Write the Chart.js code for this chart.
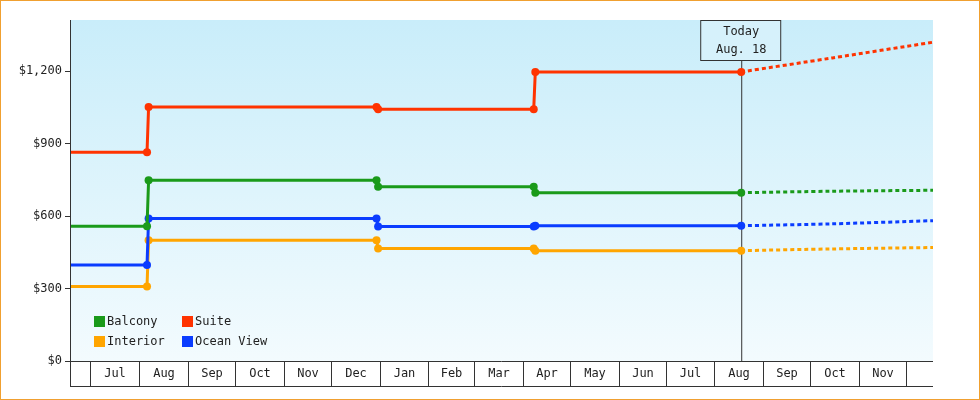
<!DOCTYPE html>
<html lang="en">
<head>
<meta charset="UTF-8">
<title>Cabin prices</title>
<script src="https://cdn.jsdelivr.net/npm/chart.js"></script>
<style>
    body { margin: 0; background: #fff; }
    .wrap { width: 978px; height: 398px; border: 1px solid #f0a030; }
</style>
</head>
<body>
<div class="wrap"><canvas id="chart" width="978" height="398"></canvas></div>
<script>
// price history dates (step changes) and forecast dates
const histDates = ["2023-06-18", "2023-08-06", "2023-08-07", "2023-12-30", "2023-12-31", "2024-04-08", "2024-04-09", "2024-08-18"];
const foreDates = ["2024-08-18", "2024-10-15", "2024-12-18"];
const balcony   = [558, 558, 748, 748, 722, 722, 697, 697];
const suite     = [864, 864, 1052, 1052, 1042, 1042, 1197, 1197];
const interior  = [308, 308, 500, 500, 466, 466, 457, 457];
const oceanView = [398, 398, 590, 590, 557, 557, 560, 560];
const balconyF  = [697, 703, 707];
const suiteF    = [1197, 1255, 1320];
const interiorF = [457, 464, 470];
const oceanF    = [560, 568, 581];
const yTicks = [0, 300, 600, 900, 1200];
const monthStarts = ["2023-07-01","2023-08-01","2023-09-01","2023-10-01","2023-11-01","2023-12-01","2024-01-01","2024-02-01","2024-03-01","2024-04-01","2024-05-01","2024-06-01","2024-07-01","2024-08-01","2024-09-01","2024-10-01","2024-11-01","2024-12-01"];
const monthNames = ["Jul","Aug","Sep","Oct","Nov","Dec","Jan","Feb","Mar","Apr","May","Jun","Jul","Aug","Sep","Oct","Nov"];
const startDate = "2023-06-18", endDate = "2024-12-18", today = "2024-08-18";

const day = s => (Date.parse(s) - Date.parse(startDate)) / 86400000;
const pts = (dates, vals) => dates.map((d, i) => ({ x: day(d), y: vals[i] }));
const FONT = "'DejaVu Sans Mono', monospace";
const colors = { Balcony: "#1a9a1a", Suite: "#ff3300", Interior: "#ffa500", "Ocean View": "#0a3cff" };

function hist(label, vals) {
    return { label, data: pts(histDates, vals), borderColor: colors[label], backgroundColor: colors[label],
        borderWidth: 3, pointRadius: c => c.dataIndex === 0 ? 0 : 4, pointBorderWidth: 0, tension: 0 };
}
function fore(label, vals) {
    return { label: label + " forecast", data: pts(foreDates, vals), borderColor: colors[label],
        borderWidth: 3, borderDash: [4, 3], pointRadius: 0, tension: 0.3 };
}

const decor = {
    id: "decor",
    beforeDatasetsDraw(chart) {
        const { ctx, chartArea: a } = chart;
        const g = ctx.createLinearGradient(0, a.top, 0, a.bottom);
        g.addColorStop(0, "#c9edfa");
        g.addColorStop(1, "#f3fbfe");
        ctx.save();
        ctx.fillStyle = g;
        ctx.fillRect(a.left, a.top, a.right - a.left, a.bottom - a.top);
        const tx = chart.scales.x.getPixelForValue(day(today));
        ctx.strokeStyle = "#333"; ctx.lineWidth = 1;
        ctx.beginPath(); ctx.moveTo(tx + 0.5, a.top + 40); ctx.lineTo(tx + 0.5, a.bottom); ctx.stroke();
        ctx.restore();
    },
    afterDraw(chart) {
        const { ctx, chartArea: a } = chart;
        const x = chart.scales.x;
        ctx.save();
        ctx.strokeStyle = "#333"; ctx.lineWidth = 1;
        // axes
        ctx.beginPath();
        ctx.moveTo(a.left + 0.5, a.top); ctx.lineTo(a.left + 0.5, a.bottom + 25);
        ctx.moveTo(a.left, a.bottom + 0.5); ctx.lineTo(a.right, a.bottom + 0.5);
        ctx.moveTo(a.left, a.bottom + 25.5); ctx.lineTo(a.right, a.bottom + 25.5);
        const bx = monthStarts.map(m => Math.round(x.getPixelForValue(day(m))) + 0.5);
        bx.forEach(p => { ctx.moveTo(p, a.bottom); ctx.lineTo(p, a.bottom + 25); });
        ctx.stroke();
        ctx.fillStyle = "#222"; ctx.font = "12px " + FONT;
        ctx.textAlign = "center"; ctx.textBaseline = "middle";
        monthNames.forEach((m, i) => ctx.fillText(m, (bx[i] + bx[i + 1]) / 2, a.bottom + 13));
        // today box
        const tx = x.getPixelForValue(day(today));
        ctx.fillStyle = "#d6f1fb";
        ctx.fillRect(tx - 40.5, a.top + 0.5, 80, 40);
        ctx.strokeRect(tx - 40.5, a.top + 0.5, 80, 40);
        ctx.fillStyle = "#222";
        ctx.fillText("Today", tx, a.top + 12);
        ctx.fillText("Aug. 18", tx, a.top + 30);
        // legend
        const items = [["Balcony", 93, 320], ["Suite", 181, 320], ["Interior", 93, 340], ["Ocean View", 181, 340]];
        ctx.textAlign = "left";
        items.forEach(([l, lx, ly]) => {
            ctx.fillStyle = colors[l]; ctx.fillRect(lx, ly - 5, 11, 11);
            ctx.fillStyle = "#222"; ctx.fillText(l, lx + 13, ly + 1);
        });
        ctx.restore();
    }
};

new Chart(document.getElementById("chart"), {
    type: "line",
    data: { datasets: [
        hist("Suite", suite), hist("Balcony", balcony), hist("Ocean View", oceanView), hist("Interior", interior),
        fore("Suite", suiteF), fore("Balcony", balconyF), fore("Ocean View", oceanF), fore("Interior", interiorF)
    ] },
    options: {
        responsive: false, animation: false,
        layout: { padding: { top: 19, right: 46, bottom: 38, left: 0 } },
        plugins: { legend: { display: false }, tooltip: { enabled: false } },
        scales: {
            x: { type: "linear", display: false, min: 0, max: day(endDate) },
            y: {
                min: 0, max: 1412,
                afterBuildTicks: s => { s.ticks = yTicks.map(v => ({ value: v })); },
                afterFit: s => { s.width = 69; },
                border: { display: false },
                grid: { drawOnChartArea: false, tickLength: 5, color: "#333" },
                ticks: { color: "#222", font: { family: FONT, size: 12 }, padding: 3,
                    callback: v => "$" + v.toLocaleString("en-US") }
            }
        }
    },
    plugins: [decor]
});
</script>
</body>
</html>
